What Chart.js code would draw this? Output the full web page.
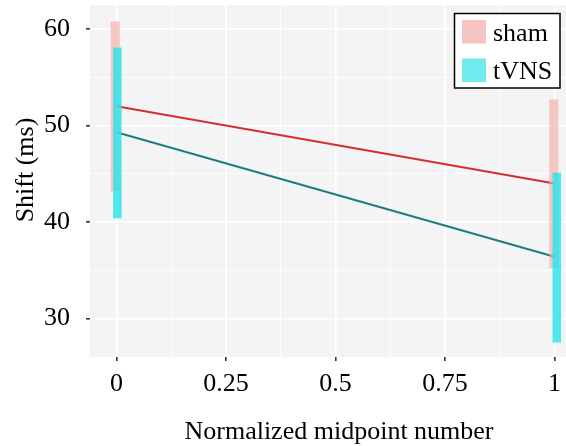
<!DOCTYPE html>
<html>
<head>
<meta charset="utf-8">
<script src="https://cdn.jsdelivr.net/npm/chart.js@4/dist/chart.umd.min.js"></script>
<style>
html,body{margin:0;padding:0;background:#fff;}
#wrap{width:566px;height:446px;}
</style>
</head>
<body>
<div id="wrap"><canvas id="c" width="566" height="446"></canvas></div>
<script>
// ---- data ----
const groups = ['sham', 'tVNS'];
const midpoints = [0, 1];
const shamMean = [52.0, 44.0];
const tvnsMean = [49.3, 36.4];
const shamBarX = [-0.003, 0.998];
const tvnsBarX = [0.002, 1.005];
const shamLow = [43.2, 35.2];
const shamHigh = [60.8, 52.7];
const tvnsLow = [40.4, 27.5];
const tvnsHigh = [58.1, 45.1];
const xTickLabels = ['0', '0.25', '0.5', '0.75', '1'];
const yTickLabels = ['30', '40', '50', '60'];
const xTitle = 'Normalized midpoint number';
const yTitle = 'Shift (ms)';

const FONT = "'Liberation Serif', 'Times New Roman', serif";
const FS = 26;
const shamLine = '#d22f2f';
const tvnsLine = '#1f7c82';
const shamFill = 'rgba(246,168,162,0.62)';
const tvnsFill = 'rgba(40,228,234,0.82)';

function pts(xs, ys) { return xs.map((x, i) => ({x: x, y: ys[i]})); }
function barSegs(xs, lo, hi) {
  const out = [];
  xs.forEach((x, i) => { out.push({x: x, y: lo[i]}); out.push({x: x, y: hi[i]}); out.push({x: NaN, y: NaN}); });
  return out;
}

const bgPlugin = {
  id: 'panelBg',
  beforeDraw(chart) {
    const {ctx, chartArea: a} = chart;
    ctx.save();
    ctx.fillStyle = '#f4f4f4';
    ctx.fillRect(a.left, a.top, a.right - a.left, a.bottom - a.top);
    ctx.restore();
  }
};

const decoPlugin = {
  id: 'deco',
  afterDraw(chart) {
    const {ctx} = chart;
    ctx.save();
    ctx.fillStyle = '#000';
    ctx.font = FS + 'px ' + FONT;
    // y title
    ctx.save();
    ctx.translate(33, 170);
    ctx.rotate(-Math.PI / 2);
    ctx.textAlign = 'center';
    ctx.textBaseline = 'alphabetic';
    ctx.fillText(yTitle, 0, 0);
    ctx.restore();
    // x title
    ctx.textAlign = 'center';
    ctx.textBaseline = 'alphabetic';
    ctx.fillText(xTitle, 339, 438.5);
    // legend
    ctx.fillStyle = '#ffffff';
    ctx.fillRect(454.5, 13.5, 105.5, 74.5);
    ctx.strokeStyle = '#000';
    ctx.lineWidth = 1.5;
    ctx.strokeRect(454.5, 13.5, 105.5, 74.5);
    const fills = ['rgb(247,196,193)', 'rgb(112,236,238)'];
    const ys = [20, 58.5];
    groups.forEach((g, i) => {
      ctx.fillStyle = fills[i];
      ctx.fillRect(462, ys[i], 24, 23.5);
      ctx.fillStyle = '#000';
      ctx.textAlign = 'left';
      ctx.fillText(g, 493, ys[i] + 20.5);
    });
    ctx.restore();
  }
};

function isMajor(v, step) { const r = v / step; return Math.abs(r - Math.round(r)) < 1e-6; }

new Chart(document.getElementById('c'), {
  type: 'scatter',
  data: {
    datasets: [
      {label: 'tVNS range', type: 'line', data: barSegs(tvnsBarX, tvnsLow, tvnsHigh), borderColor: tvnsFill, borderWidth: 8.5, borderCapStyle: 'butt', pointRadius: 0, spanGaps: false, order: 0},
      {label: 'sham range', type: 'line', data: barSegs(shamBarX, shamLow, shamHigh), borderColor: shamFill, borderWidth: 9, borderCapStyle: 'butt', pointRadius: 0, spanGaps: false, order: 1},
      {label: groups[0], type: 'line', data: pts(midpoints, shamMean), borderColor: shamLine, borderWidth: 2, pointRadius: 0, order: 2},
      {label: groups[1], type: 'line', data: pts(midpoints, tvnsMean), borderColor: tvnsLine, borderWidth: 2, pointRadius: 0, order: 3}
    ]
  },
  options: {
    responsive: false,
    animation: false,
    events: [],
    layout: {padding: {top: 5, right: 0, left: 0, bottom: 0}},
    plugins: {legend: {display: false}, tooltip: {enabled: false}, title: {display: false}},
    scales: {
      x: {
        type: 'linear',
        min: -0.0605, max: 1.026,
        afterFit(s) { s.height = 89; s.paddingLeft = 0; s.paddingRight = 0; },
        border: {display: false},
        grid: {
          color: '#ffffff',
          lineWidth: (c) => isMajor(c.tick.value, 0.25) ? 1.6 : 0.9,
          tickColor: (c) => isMajor(c.tick.value, 0.25) ? '#333333' : 'rgba(0,0,0,0)',
          tickLength: 4, tickWidth: 1.6
        },
        ticks: {
          stepSize: 0.125, includeBounds: false, autoSkip: false, maxRotation: 0,
          padding: 8,
          color: '#000', font: {family: FONT, size: FS},
          callback: (v) => { if (!isMajor(v, 0.25)) return ''; return xTickLabels[Math.round(v * 4)]; }
        }
      },
      y: {
        type: 'linear',
        min: 26, max: 62.5,
        afterFit(s) { s.width = 90; s.paddingTop = 0; s.paddingBottom = 0; },
        border: {display: false},
        grid: {
          color: '#ffffff',
          lineWidth: (c) => isMajor(c.tick.value, 10) ? 1.6 : 0.9,
          tickColor: (c) => isMajor(c.tick.value, 10) ? '#333333' : 'rgba(0,0,0,0)',
          tickLength: 4, tickWidth: 1.6
        },
        ticks: {
          stepSize: 5, includeBounds: false, autoSkip: false,
          padding: 16,
          color: '#000', font: {family: FONT, size: FS},
          callback: (v) => { if (!isMajor(v, 10)) return ''; return yTickLabels[Math.round(v / 10) - 3]; }
        }
      }
    }
  },
  plugins: [bgPlugin, decoPlugin]
});
</script>
</body>
</html>
